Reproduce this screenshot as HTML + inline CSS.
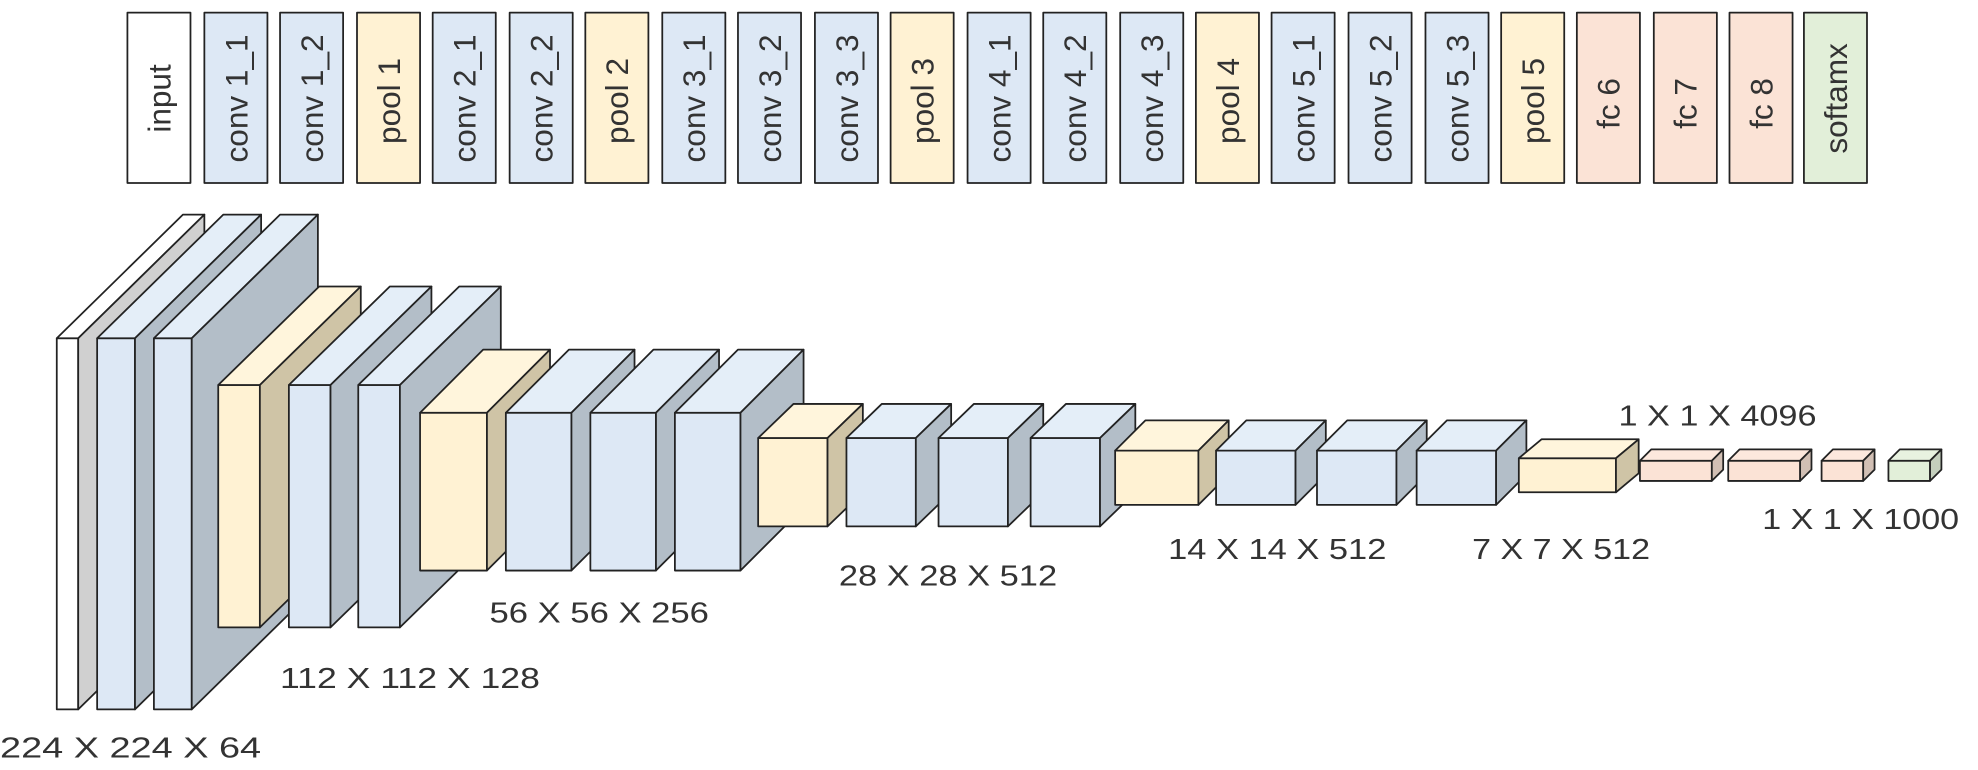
<!DOCTYPE html>
<html><head><meta charset="utf-8"><style>
html,body{margin:0;padding:0;background:#fff;}
svg{display:block;}
text{font-family:"Liberation Sans",sans-serif;fill:#333;}
</style></head><body>
<svg width="1978" height="770" viewBox="0 0 1568 610" preserveAspectRatio="none" xmlns="http://www.w3.org/2000/svg">
<g stroke="#222" stroke-width="1.4" stroke-linejoin="round">
<rect x="101" y="10" width="50" height="135" fill="#fff"/>
<rect x="162" y="10" width="50" height="135" fill="#dde8f5"/>
<rect x="222" y="10" width="50" height="135" fill="#dde8f5"/>
<rect x="283" y="10" width="50" height="135" fill="#fff2d3"/>
<rect x="343" y="10" width="50" height="135" fill="#dde8f5"/>
<rect x="404" y="10" width="50" height="135" fill="#dde8f5"/>
<rect x="464" y="10" width="50" height="135" fill="#fff2d3"/>
<rect x="525" y="10" width="50" height="135" fill="#dde8f5"/>
<rect x="585" y="10" width="50" height="135" fill="#dde8f5"/>
<rect x="646" y="10" width="50" height="135" fill="#dde8f5"/>
<rect x="706" y="10" width="50" height="135" fill="#fff2d3"/>
<rect x="767" y="10" width="50" height="135" fill="#dde8f5"/>
<rect x="827" y="10" width="50" height="135" fill="#dde8f5"/>
<rect x="888" y="10" width="50" height="135" fill="#dde8f5"/>
<rect x="948" y="10" width="50" height="135" fill="#fff2d3"/>
<rect x="1008" y="10" width="50" height="135" fill="#dde8f5"/>
<rect x="1069" y="10" width="50" height="135" fill="#dde8f5"/>
<rect x="1130" y="10" width="50" height="135" fill="#dde8f5"/>
<rect x="1190" y="10" width="50" height="135" fill="#fff2d3"/>
<rect x="1250" y="10" width="50" height="135" fill="#fbe3d6"/>
<rect x="1311" y="10" width="50" height="135" fill="#fbe3d6"/>
<rect x="1371" y="10" width="50" height="135" fill="#fbe3d6"/>
<rect x="1430" y="10" width="50" height="135" fill="#e2efd9"/>
</g>
<g font-size="25" text-anchor="middle">
<text transform="translate(135,78) rotate(-90)">input</text>
<text transform="translate(196,78) rotate(-90)">conv 1_1</text>
<text transform="translate(256,78) rotate(-90)">conv 1_2</text>
<text transform="translate(317,80) rotate(-90)">pool 1</text>
<text transform="translate(377,78) rotate(-90)">conv 2_1</text>
<text transform="translate(438,78) rotate(-90)">conv 2_2</text>
<text transform="translate(498,80) rotate(-90)">pool 2</text>
<text transform="translate(559,78) rotate(-90)">conv 3_1</text>
<text transform="translate(619,78) rotate(-90)">conv 3_2</text>
<text transform="translate(680,78) rotate(-90)">conv 3_3</text>
<text transform="translate(740,80) rotate(-90)">pool 3</text>
<text transform="translate(801,78) rotate(-90)">conv 4_1</text>
<text transform="translate(861,78) rotate(-90)">conv 4_2</text>
<text transform="translate(922,78) rotate(-90)">conv 4_3</text>
<text transform="translate(982,80) rotate(-90)">pool 4</text>
<text transform="translate(1042,78) rotate(-90)">conv 5_1</text>
<text transform="translate(1103,78) rotate(-90)">conv 5_2</text>
<text transform="translate(1164,78) rotate(-90)">conv 5_3</text>
<text transform="translate(1224,80) rotate(-90)">pool 5</text>
<text transform="translate(1284,82) rotate(-90)">fc 6</text>
<text transform="translate(1345,82) rotate(-90)">fc 7</text>
<text transform="translate(1405,82) rotate(-90)">fc 8</text>
<text transform="translate(1464,78) rotate(-90)">softamx</text>
</g>
<g stroke="#222" stroke-width="1.4" stroke-linejoin="round">
<rect x="45" y="268" width="17" height="294" fill="#fff"/><polygon points="45,268 145,170 162,170 62,268" fill="#fff"/><polygon points="62,268 162,170 162,464 62,562" fill="#d0d0d0"/>
<rect x="77" y="268" width="30" height="294" fill="#dde8f5"/><polygon points="77,268 177,170 207,170 107,268" fill="#e4eef8"/><polygon points="107,268 207,170 207,464 107,562" fill="#b3bec8"/>
<rect x="122" y="268" width="30" height="294" fill="#dde8f5"/><polygon points="122,268 222,170 252,170 152,268" fill="#e4eef8"/><polygon points="152,268 252,170 252,464 152,562" fill="#b3bec8"/>
<rect x="173" y="305" width="33" height="192" fill="#fff2d3"/><polygon points="173,305 253,227 286,227 206,305" fill="#fff5dc"/><polygon points="206,305 286,227 286,419 206,497" fill="#cfc4a6"/>
<rect x="229" y="305" width="33" height="192" fill="#dde8f5"/><polygon points="229,305 309,227 342,227 262,305" fill="#e4eef8"/><polygon points="262,305 342,227 342,419 262,497" fill="#b3bec8"/>
<rect x="284" y="305" width="33" height="192" fill="#dde8f5"/><polygon points="284,305 364,227 397,227 317,305" fill="#e4eef8"/><polygon points="317,305 397,227 397,419 317,497" fill="#b3bec8"/>
<rect x="333" y="327" width="53" height="125" fill="#fff2d3"/><polygon points="333,327 383,277 436,277 386,327" fill="#fff5dc"/><polygon points="386,327 436,277 436,402 386,452" fill="#cfc4a6"/>
<rect x="401" y="327" width="52" height="125" fill="#dde8f5"/><polygon points="401,327 451,277 503,277 453,327" fill="#e4eef8"/><polygon points="453,327 503,277 503,402 453,452" fill="#b3bec8"/>
<rect x="468" y="327" width="52" height="125" fill="#dde8f5"/><polygon points="468,327 518,277 570,277 520,327" fill="#e4eef8"/><polygon points="520,327 570,277 570,402 520,452" fill="#b3bec8"/>
<rect x="535" y="327" width="52" height="125" fill="#dde8f5"/><polygon points="535,327 585,277 637,277 587,327" fill="#e4eef8"/><polygon points="587,327 637,277 637,402 587,452" fill="#b3bec8"/>
<rect x="601" y="347" width="55" height="70" fill="#fff2d3"/><polygon points="601,347 629,320 684,320 656,347" fill="#fff5dc"/><polygon points="656,347 684,320 684,390 656,417" fill="#cfc4a6"/>
<rect x="671" y="347" width="55" height="70" fill="#dde8f5"/><polygon points="671,347 699,320 754,320 726,347" fill="#e4eef8"/><polygon points="726,347 754,320 754,390 726,417" fill="#b3bec8"/>
<rect x="744" y="347" width="55" height="70" fill="#dde8f5"/><polygon points="744,347 772,320 827,320 799,347" fill="#e4eef8"/><polygon points="799,347 827,320 827,390 799,417" fill="#b3bec8"/>
<rect x="817" y="347" width="55" height="70" fill="#dde8f5"/><polygon points="817,347 845,320 900,320 872,347" fill="#e4eef8"/><polygon points="872,347 900,320 900,390 872,417" fill="#b3bec8"/>
<rect x="884" y="357" width="66" height="43" fill="#fff2d3"/><polygon points="884,357 908,333 974,333 950,357" fill="#fff5dc"/><polygon points="950,357 974,333 974,376 950,400" fill="#cfc4a6"/>
<rect x="964" y="357" width="63" height="43" fill="#dde8f5"/><polygon points="964,357 988,333 1051,333 1027,357" fill="#e4eef8"/><polygon points="1027,357 1051,333 1051,376 1027,400" fill="#b3bec8"/>
<rect x="1044" y="357" width="63" height="43" fill="#dde8f5"/><polygon points="1044,357 1068,333 1131,333 1107,357" fill="#e4eef8"/><polygon points="1107,357 1131,333 1131,376 1107,400" fill="#b3bec8"/>
<rect x="1123" y="357" width="63" height="43" fill="#dde8f5"/><polygon points="1123,357 1147,333 1210,333 1186,357" fill="#e4eef8"/><polygon points="1186,357 1210,333 1210,376 1186,400" fill="#b3bec8"/>
<rect x="1204" y="363" width="77" height="27" fill="#fff2d3"/><polygon points="1204,363 1222,348 1299,348 1281,363" fill="#fff5dc"/><polygon points="1281,363 1299,348 1299,375 1281,390" fill="#cfc4a6"/>
<rect x="1300" y="365" width="57" height="16" fill="#fbe3d6"/><polygon points="1300,365 1309,356 1366,356 1357,365" fill="#fce8dd"/><polygon points="1357,365 1366,356 1366,372 1357,381" fill="#d1bfb4"/>
<rect x="1370" y="365" width="57" height="16" fill="#fbe3d6"/><polygon points="1370,365 1379,356 1436,356 1427,365" fill="#fce8dd"/><polygon points="1427,365 1436,356 1436,372 1427,381" fill="#d1bfb4"/>
<rect x="1444" y="365" width="33" height="16" fill="#fbe3d6"/><polygon points="1444,365 1453,356 1486,356 1477,365" fill="#fce8dd"/><polygon points="1477,365 1486,356 1486,372 1477,381" fill="#d1bfb4"/>
<rect x="1497" y="365" width="33" height="16" fill="#e2efd9"/><polygon points="1497,365 1506,356 1539,356 1530,365" fill="#e8f2e0"/><polygon points="1530,365 1539,356 1539,372 1530,381" fill="#c4cfbd"/>
</g>
<g font-size="23">
<text x="0" y="600" textLength="207" lengthAdjust="spacingAndGlyphs">224 X 224 X 64</text>
<text x="222" y="545" textLength="206" lengthAdjust="spacingAndGlyphs">112 X 112 X 128</text>
<text x="388" y="493" textLength="174" lengthAdjust="spacingAndGlyphs">56 X 56 X 256</text>
<text x="665" y="464" textLength="173" lengthAdjust="spacingAndGlyphs">28 X 28 X 512</text>
<text x="926" y="443" textLength="173" lengthAdjust="spacingAndGlyphs">14 X 14 X 512</text>
<text x="1167" y="443" textLength="141" lengthAdjust="spacingAndGlyphs">7 X 7 X 512</text>
<text x="1283" y="337" textLength="157" lengthAdjust="spacingAndGlyphs">1 X 1 X 4096</text>
<text x="1397" y="419" textLength="156" lengthAdjust="spacingAndGlyphs">1 X 1 X 1000</text>
</g>
</svg>
</body></html>
